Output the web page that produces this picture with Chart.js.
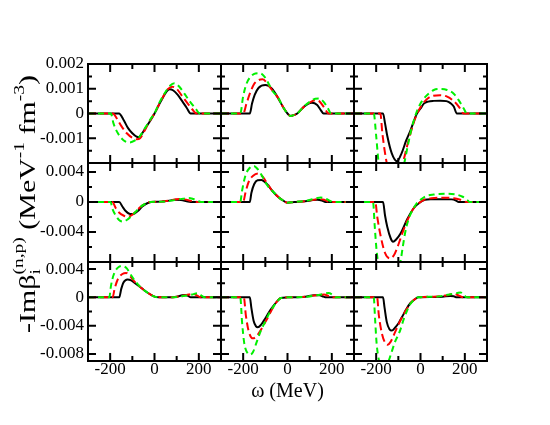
<!DOCTYPE html>
<html>
<head>
<meta charset="utf-8">
<script src="https://cdn.jsdelivr.net/npm/chart.js@4"></script>
<style>
  body { margin: 0; background: #fff; }
  canvas { display: block; }
</style>
</head>
<body>
<canvas id="beta-grid" width="550" height="425"></canvas>
<script>
// x axis (omega, MeV) shared by the three columns
const omegaMin = -300, omegaMax = 300;
const omegaLabels = [-200, 0, 200];
const omegaMinor = [-100, 100];

// y ranges and ticks for the three rows (top to bottom)
const rowMin = [-0.002, -0.008, -0.009];
const rowMax = [0.002, 0.0052, 0.005];
const rowLabels = [[-0.001, 0, 0.001, 0.002], [-0.004, 0, 0.004], [-0.008, -0.004, 0, 0.004]];
const rowMajor = [[-0.002, -0.001, 0, 0.001, 0.002], [-0.008, -0.004, 0, 0.004], [-0.008, -0.004, 0, 0.004]];
const rowMinor = [[-0.0015, -0.0005, 0.0005, 0.0015], [-0.006, -0.002, 0.002], [-0.006, -0.002, 0.002]];

// curves: [omega, -Im beta]  (k = black solid, r = red dashed, g = green dashed)
// row 1
const p11k = [[-300,0],[-160,0],[-140,-0.00025],[-120,-0.00058],[-100,-0.0008],[-80,-0.00094],[-70,-0.00095],[-60,-0.00086],[-40,-0.00058],[-20,-0.0003],[0,0],[20,0.00035],[40,0.00068],[55,0.0009],[68,0.00098],[85,0.00093],[105,0.00075],[125,0.0005],[145,0.00023],[163,0],[300,0]];
const p11r = [[-300,0],[-188,0],[-170,-0.0002],[-150,-0.0005],[-125,-0.0008],[-100,-0.00098],[-80,-0.00104],[-65,-0.001],[-45,-0.0007],[-25,-0.00035],[0,0],[20,0.00035],[40,0.0007],[60,0.00098],[80,0.00108],[100,0.001],[125,0.0007],[150,0.0004],[172,0.00015],[190,0],[300,0]];
const p11g = [[-300,0],[-197,0],[-185,-0.0004],[-165,-0.0008],[-140,-0.00108],[-115,-0.00117],[-90,-0.0011],[-65,-0.0009],[-40,-0.00055],[-20,-0.00025],[0,0],[20,0.0004],[45,0.0008],[70,0.00112],[90,0.00122],[110,0.0011],[135,0.0008],[160,0.00048],[185,0.0002],[205,0],[300,0]];
const p12k = [[-300,0],[-170,0],[-160,0.0004],[-148,0.00075],[-130,0.00104],[-100,0.00115],[-70,0.001],[-46,0.00068],[-16,0.0002],[0,0],[14,-0.0001],[30,-0.00006],[44,0],[74,0.00027],[95,0.0004],[110,0.00043],[134,0.00034],[150,0.00014],[163,0],[300,0]];
const p12r = [[-300,0],[-200,0],[-185,0.0004],[-170,0.0008],[-150,0.0012],[-130,0.00135],[-112,0.00138],[-90,0.0012],[-70,0.00095],[-46,0.00068],[-16,0.0002],[0,0],[14,-0.0001],[30,-0.00006],[44,0],[74,0.00027],[100,0.00044],[125,0.00054],[145,0.00048],[165,0.00025],[186,0],[300,0]];
const p12g = [[-300,0],[-213,0],[-200,0.0007],[-185,0.0012],[-165,0.0015],[-145,0.00162],[-125,0.00163],[-105,0.0015],[-85,0.0012],[-65,0.00088],[-46,0.0007],[-16,0.0002],[0,0],[14,-0.0001],[30,-0.00006],[44,0],[74,0.00028],[100,0.00047],[125,0.0006],[141,0.00061],[160,0.0005],[180,0.00025],[197,0],[300,0]];
const p13k = [[-300,0],[-169,0],[-160,-0.0004],[-150,-0.0009],[-130,-0.0016],[-106,-0.00193],[-85,-0.0016],[-65,-0.0011],[-45,-0.00068],[-16,0],[0,0.0002],[15,0.0004],[35,0.00048],[60,0.00051],[90,0.00052],[117,0.0005],[135,0.00042],[150,0.00028],[164,0],[300,0]];
const p13r = [[-300,0],[-181,0],[-172,-0.0008],[-160,-0.0016],[-145,-0.0023],[-122,-0.0027],[-100,-0.0025],[-80,-0.002],[-60,-0.0013],[-45,-0.0008],[-20,-0.0001],[0,0.00025],[20,0.0005],[50,0.0007],[89,0.00074],[120,0.00068],[150,0.0005],[175,0.00025],[194,0],[300,0]];
const p13g = [[-300,0],[-211,0],[-200,-0.0009],[-190,-0.0019],[-175,-0.0028],[-150,-0.0034],[-125,-0.0035],[-100,-0.003],[-85,-0.0025],[-73,-0.002],[-55,-0.0012],[-40,-0.0006],[-20,0],[0,0.0004],[25,0.0007],[60,0.00095],[89,0.00099],[120,0.00095],[150,0.0008],[175,0.0005],[195,0.0002],[209,0],[300,0]];
// row 2
const p21k = [[-300,0],[-159,0],[-145,-0.0006],[-130,-0.0012],[-110,-0.0016],[-95,-0.0016],[-75,-0.0012],[-55,-0.0006],[-35,-0.0002],[-15,0],[30,0.00005],[60,0.00015],[95,0.0003],[120,0.00025],[145,0.0001],[163,0],[300,0]];
const p21r = [[-300,0],[-190,0],[-175,-0.0008],[-160,-0.0014],[-140,-0.0018],[-122,-0.00196],[-105,-0.0018],[-85,-0.0013],[-65,-0.0007],[-45,-0.0003],[-20,0],[30,0.00005],[70,0.0002],[110,0.0004],[135,0.00035],[165,0.00015],[195,0],[300,0]];
const p21g = [[-300,0],[-198,0],[-190,-0.0009],[-175,-0.0018],[-160,-0.0024],[-144,-0.0026],[-125,-0.0024],[-105,-0.0019],[-85,-0.0013],[-65,-0.0007],[-45,-0.0003],[-20,0],[40,0.00005],[90,0.00025],[130,0.00045],[155,0.00055],[175,0.0004],[195,0.00015],[210,0],[300,0]];
const p22k = [[-300,0],[-170,0],[-163,0.0012],[-150,0.0024],[-135,0.0029],[-117,0.00293],[-100,0.0026],[-90,0.0023],[-69,0.0015],[-50,0.0009],[-39,0.0006],[-20,0.0002],[0,-0.0001],[30,0],[80,0.0001],[115,0.00025],[134,0.0003],[155,0.0002],[171,0],[300,0]];
const p22r = [[-300,0],[-200,0],[-190,0.0012],[-175,0.0027],[-155,0.0035],[-132,0.0038],[-110,0.0033],[-90,0.0024],[-69,0.0015],[-50,0.0009],[-39,0.0006],[-20,0.0002],[0,-0.0001],[30,0],[80,0.00012],[120,0.0003],[140,0.0004],[165,0.0003],[194,0],[300,0]];
const p22g = [[-300,0],[-213,0],[-205,0.0015],[-190,0.0035],[-172,0.0045],[-152,0.0048],[-135,0.0044],[-115,0.0035],[-95,0.0024],[-80,0.0018],[-69,0.0015],[-50,0.0009],[-39,0.0006],[-20,0.0002],[0,-0.0001],[30,0],[90,0.0002],[130,0.0005],[150,0.0006],[175,0.0004],[207,0],[300,0]];
const p23k = [[-300,0],[-169,0],[-160,-0.0018],[-150,-0.0033],[-135,-0.0048],[-124,-0.0053],[-110,-0.005],[-90,-0.0042],[-60,-0.0023],[-30,-0.0008],[0,0],[20,0.0003],[50,0.00036],[100,0.00037],[140,0.00035],[160,0.0002],[172,0],[300,0]];
const p23r = [[-300,0],[-204,0],[-195,-0.002],[-180,-0.0045],[-160,-0.0068],[-138,-0.0075],[-120,-0.0071],[-100,-0.0057],[-80,-0.004],[-60,-0.0025],[-30,-0.0008],[0,0],[20,0.00035],[50,0.0005],[100,0.00057],[150,0.0005],[180,0.0003],[209,0],[300,0]];
const p23g = [[-300,0],[-214,0],[-207,-0.003],[-198,-0.0065],[-185,-0.009],[-165,-0.0102],[-145,-0.0104],[-125,-0.0097],[-105,-0.0088],[-91,-0.008],[-80,-0.006],[-70,-0.0042],[-55,-0.0024],[-40,-0.0013],[-20,-0.0003],[0,0.0003],[25,0.0008],[60,0.001],[110,0.0011],[160,0.001],[190,0.0007],[210,0.0003],[221,0],[300,0]];
// row 3
const p31k = [[-300,0],[-159,0],[-150,0.0012],[-140,0.0021],[-122,0.00254],[-105,0.0024],[-92,0.0021],[-62,0.0014],[-31,0.00065],[0,0.0001],[20,0],[60,0],[100,0.0001],[125,0.0003],[140,0.00035],[152,0.0002],[163,0],[300,0]];
const p31r = [[-300,0],[-189,0],[-180,0.0012],[-165,0.0026],[-145,0.0033],[-128,0.00346],[-110,0.003],[-92,0.0023],[-62,0.0014],[-31,0.00065],[0,0.0001],[20,0],[70,0],[120,0.0002],[155,0.0004],[175,0.0005],[195,0.0002],[208,0],[300,0]];
const p31g = [[-300,0],[-204,0],[-196,0.0017],[-183,0.0033],[-165,0.0042],[-144,0.00445],[-125,0.0041],[-105,0.0031],[-85,0.0022],[-62,0.0014],[-31,0.00065],[0,0.0001],[20,0],[80,0],[130,0.0002],[170,0.0004],[194,0.0006],[210,0.0003],[225,0],[300,0]];
const p32k = [[-300,0],[-170,0],[-163,-0.0015],[-153,-0.0033],[-142,-0.0041],[-134,-0.00423],[-120,-0.0039],[-105,-0.0032],[-91,-0.0025],[-75,-0.0017],[-61,-0.0011],[-45,-0.0005],[-30,-0.0001],[0,0],[80,0.0001],[120,0.0003],[145,0.0003],[162,0.0001],[175,0],[300,0]];
const p32r = [[-300,0],[-197,0],[-188,-0.0025],[-175,-0.0048],[-156,-0.0058],[-140,-0.0055],[-120,-0.0046],[-100,-0.0035],[-91,-0.003],[-75,-0.002],[-61,-0.0012],[-45,-0.0005],[-30,-0.0001],[0,0],[80,0.0001],[130,0.0003],[165,0.0004],[185,0.0002],[200,0],[300,0]];
const p32g = [[-300,0],[-213,0],[-205,-0.0035],[-195,-0.0065],[-180,-0.0079],[-168,-0.0081],[-155,-0.0077],[-140,-0.0064],[-120,-0.0047],[-100,-0.0034],[-80,-0.0021],[-61,-0.0012],[-45,-0.0005],[-30,-0.0001],[0,0],[90,0.0001],[150,0.0004],[185,0.0006],[205,0.0003],[216,0],[300,0]];
const p33k = [[-300,0],[-169,0],[-162,-0.0015],[-152,-0.0035],[-140,-0.0045],[-129,-0.0047],[-115,-0.0043],[-100,-0.0037],[-91,-0.0032],[-75,-0.0023],[-61,-0.0015],[-45,-0.0008],[-31,-0.0004],[-10,0],[50,0.00005],[100,0.0001],[134,0.0002],[150,0.00015],[164,0],[300,0]];
const p33r = [[-300,0],[-196,0],[-188,-0.0025],[-175,-0.005],[-160,-0.0064],[-148,-0.0067],[-135,-0.0063],[-120,-0.0053],[-100,-0.0039],[-80,-0.0026],[-61,-0.0016],[-45,-0.0008],[-31,-0.0004],[-10,0],[60,0.0001],[120,0.0003],[148,0.0005],[170,0.0003],[194,0],[300,0]];
const p33g = [[-300,0],[-211,0],[-205,-0.003],[-198,-0.0065],[-188,-0.0088],[-172,-0.0099],[-155,-0.0095],[-144,-0.009],[-130,-0.0077],[-115,-0.0063],[-100,-0.0053],[-91,-0.0046],[-75,-0.003],[-61,-0.0019],[-45,-0.0009],[-31,-0.0004],[-10,0],[70,0.0001],[130,0.0004],[165,0.0006],[180,0.0007],[195,0.0004],[209,0],[300,0]];

const panels = [
  [[p11k, p11r, p11g], [p12k, p12r, p12g], [p13k, p13r, p13g]],
  [[p21k, p21r, p21g], [p22k, p22r, p22g], [p23k, p23r, p23g]],
  [[p31k, p31r, p31g], [p32k, p32r, p32g], [p33k, p33r, p33g]]
];

const curveStyles = [
  { color: '#000000', dash: [], order: 3 },
  { color: '#ff0000', dash: [8, 4], order: 2 },
  { color: '#00f000', dash: [6, 4], order: 1 }
];

Chart.defaults.font.family = '"Liberation Serif", "Times New Roman", serif';
Chart.defaults.color = '#000';

// build datasets, one per curve, each on its own panel's axes
const datasets = [];
panels.forEach((row, r) => {
  row.forEach((curves, c) => {
    curves.forEach((pts, k) => {
      const st = curveStyles[k];
      datasets.push({
        data: pts,
        xAxisID: 'x' + (c + 1),
        yAxisID: 'y' + (r + 1),
        borderColor: st.color,
        borderDash: st.dash,
        borderWidth: 2,
        pointRadius: 0,
        cubicInterpolationMode: 'monotone',
        order: st.order
      });
    });
  });
});

// stacked scales: three x axes side by side, three y axes on top of each other
const scales = {};
for (let c = 0; c < 3; c++) {
  scales['x' + (c + 1)] = {
    type: 'linear',
    position: 'bottom',
    stack: 'omega',
    min: omegaMin,
    max: omegaMax,
    grid: { display: false, drawTicks: false },
    border: { display: false },
    afterBuildTicks: s => { s.ticks = omegaLabels.map(v => ({ value: v })); },
    afterFit: s => { s.height = 64; },
    ticks: { autoSkip: false, maxRotation: 0, padding: -2, font: { size: 17 }, callback: v => String(v) },
    title: { display: c === 1, text: 'ω (MeV)', font: { size: 20 }, padding: { top: 0, bottom: 21 } }
  };
}
for (let r = 0; r < 3; r++) {
  scales['y' + (r + 1)] = {
    type: 'linear',
    position: 'left',
    stack: 'beta',
    weight: 3 - r,
    min: rowMin[r],
    max: rowMax[r],
    grid: { display: false, drawTicks: false },
    border: { display: false },
    afterBuildTicks: s => { s.ticks = rowLabels[r].map(v => ({ value: v })); },
    afterFit: s => { s.width = 88; },
    ticks: { autoSkip: false, padding: 4, font: { size: 17 }, callback: v => String(v) }
  };
}

// keep each curve inside its own panel
const panelClip = {
  id: 'panelClip',
  beforeDatasetDraw(chart, args) {
    const m = args.meta;
    chart.ctx.save();
    chart.ctx.beginPath();
    chart.ctx.rect(m.xScale.left, m.yScale.top, m.xScale.width, m.yScale.height);
    chart.ctx.clip();
  },
  afterDatasetDraw(chart) {
    chart.ctx.restore();
  }
};

// panel frames with inward tick marks on all four sides
const panelFrames = {
  id: 'panelFrames',
  afterDatasetsDraw(chart) {
    const ctx = chart.ctx;
    ctx.save();
    ctx.strokeStyle = '#000';
    ctx.lineWidth = 2;
    for (let c = 0; c < 3; c++) {
      const xs = chart.scales['x' + (c + 1)];
      for (let r = 0; r < 3; r++) {
        const ys = chart.scales['y' + (r + 1)];
        ctx.strokeRect(xs.left, ys.top, xs.right - xs.left, ys.bottom - ys.top);
        ctx.beginPath();
        const xMark = (v, len) => {
          const px = xs.getPixelForValue(v);
          ctx.moveTo(px, ys.top); ctx.lineTo(px, ys.top + len);
          ctx.moveTo(px, ys.bottom); ctx.lineTo(px, ys.bottom - len);
        };
        const yMark = (v, len) => {
          const py = ys.getPixelForValue(v);
          ctx.moveTo(xs.left, py); ctx.lineTo(xs.left + len, py);
          ctx.moveTo(xs.right, py); ctx.lineTo(xs.right - len, py);
        };
        omegaLabels.forEach(v => xMark(v, 8));
        omegaMinor.forEach(v => xMark(v, 5));
        rowMajor[r].forEach(v => yMark(v, 8));
        rowMinor[r].forEach(v => yMark(v, 4));
        ctx.stroke();
      }
    }
    ctx.restore();
  }
};

// rotated y title with sub/superscripts (glyphs drawn stretched along the text, as in the original)
const yTitleParts = [
  { text: '-Imβ', size: 23, shift: 0 },
  { text: 'i', size: 15, shift: 5, noAdvance: true },
  { text: '(n,p)', size: 15, shift: -12 },
  { text: ' (MeV', size: 23, shift: 0 },
  { text: '-1', size: 15, shift: -11 },
  { text: ' fm', size: 23, shift: 0 },
  { text: '-3', size: 15, shift: -11 },
  { text: ')', size: 23, shift: 0 }
];
const yTitle = {
  id: 'yTitle',
  afterDraw(chart) {
    const ctx = chart.ctx;
    const family = Chart.defaults.font.family;
    ctx.save();
    let total = 0;
    yTitleParts.forEach(p => {
      ctx.font = p.size + 'px ' + family;
      if (!p.noAdvance) total += ctx.measureText(p.text).width;
    });
    ctx.translate(35, 204);
    ctx.rotate(-Math.PI / 2);
    ctx.scale(1.3, 1);
    ctx.fillStyle = '#000';
    ctx.textBaseline = 'alphabetic';
    let u = -total / 2;
    yTitleParts.forEach(p => {
      ctx.font = p.size + 'px ' + family;
      ctx.fillText(p.text, u, p.shift);
      if (!p.noAdvance) u += ctx.measureText(p.text).width;
    });
    ctx.restore();
  }
};

new Chart(document.getElementById('beta-grid'), {
  type: 'line',
  data: { datasets: datasets },
  options: {
    responsive: false,
    animation: false,
    layout: { padding: { top: 64, right: 63, bottom: 0, left: 0 } },
    plugins: { legend: { display: false }, tooltip: { enabled: false } },
    scales: scales
  },
  plugins: [panelClip, panelFrames, yTitle]
});
</script>
</body>
</html>
